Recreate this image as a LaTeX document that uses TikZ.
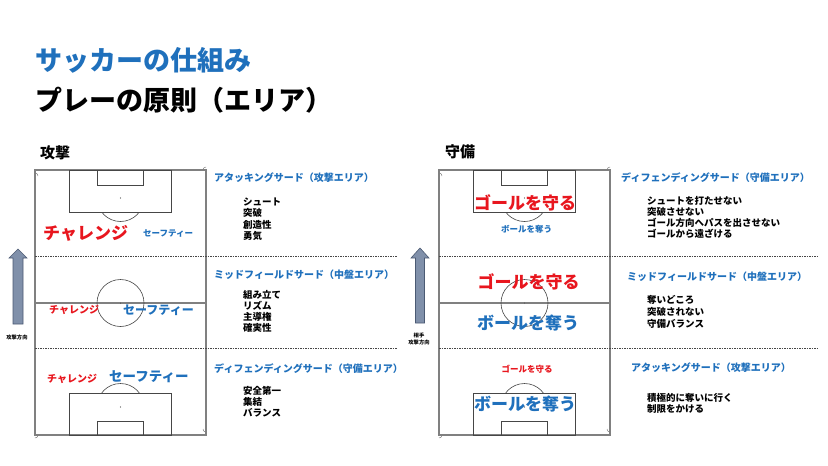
\documentclass[tikz,border=0pt]{standalone}
\usepackage{fontspec}
\setmainfont{Noto Sans CJK JP}
\definecolor{tblue}{RGB}{31,112,188}
\definecolor{tred}{RGB}{232,22,30}
\definecolor{pgray}{RGB}{128,128,128}
\definecolor{pdark}{RGB}{70,70,70}
\definecolor{arrowfill}{RGB}{128,144,170}
\definecolor{arrowline}{RGB}{75,90,115}
\tikzset{
  txt/.style={inner sep=0pt, font=\bfseries},
  lt/.style={txt, anchor=west},
  fs/.style={font=\bfseries\fontsize{#1}{#1}\selectfont},
  outer/.style={draw=pgray, line width=1.3pt},
  inner/.style={draw=pdark, line width=0.8pt},
  zone/.style={draw=pdark, line width=0.6pt, dash pattern=on 1.6pt off 0.9pt},
  dirarrow/.style={fill=arrowfill, draw=arrowline, line width=0.6pt},
}
\newcommand\drawpitch[1]{%
  \begin{scope}[shift={(#1,0)}]
    % outer
    \draw[outer] (0,170) rectangle (171,435);
    % corner arcs
    \draw[pgray, line width=0.5pt] (0,173) arc[start angle=-90,end angle=0,radius=3];
    \draw[pgray, line width=0.5pt] (168,170) arc[start angle=180,end angle=270,radius=3];
    \draw[pgray, line width=0.5pt] (3,435) arc[start angle=0,end angle=90,radius=3];
    \draw[pgray, line width=0.5pt] (171,432) arc[start angle=90,end angle=180,radius=3];
    % top boxes
    \draw[inner] (34,170) rectangle (136.5,212);
    \draw[inner] (62,170) rectangle (108.5,185);
    \fill[pdark] (85.5,198) circle (0.6);
    \begin{scope}
      \clip (0,212.4) rectangle (171,250);
      \draw[draw=pdark, line width=0.6pt] (85.5,198) circle (23.5);
    \end{scope}
    % bottom boxes
    \draw[inner] (34,435) rectangle (136.5,393);
    \draw[inner] (62,435) rectangle (108.5,421);
    \fill[pdark] (85.5,407) circle (0.6);
    \begin{scope}
      \clip (0,392.6) rectangle (171,360);
      \draw[draw=pdark, line width=0.6pt] (85.5,407) circle (23.5);
    \end{scope}
    % halfway
    \draw[outer] (0,303) -- (171,303);
    \draw[draw=pdark, line width=0.6pt] (85.5,303) circle (23.5);
    \fill[pdark] (85.5,303) circle (0.5);
  \end{scope}}
\begin{document}
\begin{tikzpicture}[x=1pt,y=-1pt]
\useasboundingbox[fill=white] (0,0) rectangle (828,466);

% titles
\node[lt, fs=27, text=tblue] (title1) at (35,60) {サッカーの仕組み};
\node[lt, fs=27] (title2) at (35,100) {プレーの原則（エリア）};
\node[lt, fs=15] (atk) at (40,153) {攻撃};
\node[lt, fs=15] (def) at (445,152) {守備};

% pitches
\drawpitch{35}
\drawpitch{439}

% zone lines
\coordinate (zl1a) at (35,256);  \coordinate (zl1b) at (397,256);
\coordinate (zl2a) at (35,348);  \coordinate (zl2b) at (397,348);
\coordinate (zr1a) at (439,256); \coordinate (zr1b) at (817,256);
\coordinate (zr2a) at (439,348); \coordinate (zr2b) at (817,348);
\draw[zone] (zl1a) -- (zl1b);
\draw[zone] (zl2a) -- (zl2b);
\draw[zone] (zr1a) -- (zr1b);
\draw[zone] (zr2a) -- (zr2b);

% direction arrows
\draw[dirarrow] (18,249) -- (27,258) -- (23,258) -- (23,324) -- (13,324) -- (13,258) -- (9,258) -- cycle;
\draw[dirarrow] (420,248) -- (429,258) -- (424.5,258) -- (424.5,323) -- (415.5,323) -- (415.5,258) -- (411,258) -- cycle;
\node[txt, fs=5.3] (dirl) at (17,337) {攻撃方向};
\node[txt, fs=5.3] (dirr1) at (419,335) {相手};
\node[txt, fs=5.3] (dirr2) at (419,342) {攻撃方向};

% left pitch texts
\node[lt, fs=17, text=tred] (lc1) at (43,233) {チャレンジ};
\node[lt, fs=8.5, text=tblue] (ls1) at (143,233.5) {セーフティー};
\node[lt, fs=10, text=tred] (lc2) at (49,310) {チャレンジ};
\node[lt, fs=12, text=tblue] (ls2) at (123,310) {セーフティー};
\node[lt, fs=10, text=tred] (lc3) at (47,379) {チャレンジ};
\node[lt, fs=13.5, text=tblue] (ls3) at (109,377) {セーフティー};

% left descriptions
\node[lt, fs=10, text=tblue] (la1) at (214,178) {アタッキングサード（攻撃エリア）};
\node[lt, fs=9.5] at (243,202) {シュート};
\node[lt, fs=9.5] at (243,213) {突破};
\node[lt, fs=9.5] at (243,224.5) {創造性};
\node[lt, fs=9.5] at (243,236) {勇気};
\node[lt, fs=10, text=tblue] (la2) at (214,275) {ミッドフィールドサード（中盤エリア）};
\node[lt, fs=9.5] at (243,295) {組み立て};
\node[lt, fs=9.5] at (243,306) {リズム};
\node[lt, fs=9.5] at (243,317) {主導権};
\node[lt, fs=9.5] at (243,328) {確実性};
\node[lt, fs=10, text=tblue] (la3) at (214,369) {ディフェンディングサード（守備エリア）};
\node[lt, fs=9.5] at (243,391) {安全第一};
\node[lt, fs=9.5] at (243,402) {集結};
\node[lt, fs=9.5] at (243,413) {バランス};

% right pitch texts
\node[txt, fs=17, text=tred] (rg1) at (525,203) {ゴールを守る};
\node[txt, fs=8.5, text=tblue] (rb1) at (526.5,229) {ボールを奪う};
\node[txt, fs=17, text=tred] (rg2) at (528.5,282) {ゴールを守る};
\node[txt, fs=17, text=tblue] (rb2) at (528,323) {ボールを奪う};
\node[txt, fs=8.5, text=tred] (rg3) at (527,369) {ゴールを守る};
\node[txt, fs=17, text=tblue] (rb3) at (525,404) {ボールを奪う};

% right descriptions
\node[lt, fs=10, text=tblue] (ra1) at (621,178) {ディフェンディングサード（守備エリア）};
\node[lt, fs=9.5] at (647,201) {シュートを打たせない};
\node[lt, fs=9.5] at (647,211.5) {突破させない};
\node[lt, fs=9.5] at (647,223) {ゴール方向へパスを出させない};
\node[lt, fs=9.5] at (647,234) {ゴールから遠ざける};
\node[lt, fs=10, text=tblue] (ra2) at (627,277) {ミッドフィールドサード（中盤エリア）};
\node[lt, fs=9.5] at (647,300) {奪いどころ};
\node[lt, fs=9.5] at (647,312) {突破されない};
\node[lt, fs=9.5] at (647,324) {守備バランス};
\node[lt, fs=10, text=tblue] (ra3) at (631,368) {アタッキングサード（攻撃エリア）};
\node[lt, fs=9.5] at (647,398) {積極的に奪いに行く};
\node[lt, fs=9.5] at (647,408.5) {制限をかける};
\end{tikzpicture}
\end{document}
